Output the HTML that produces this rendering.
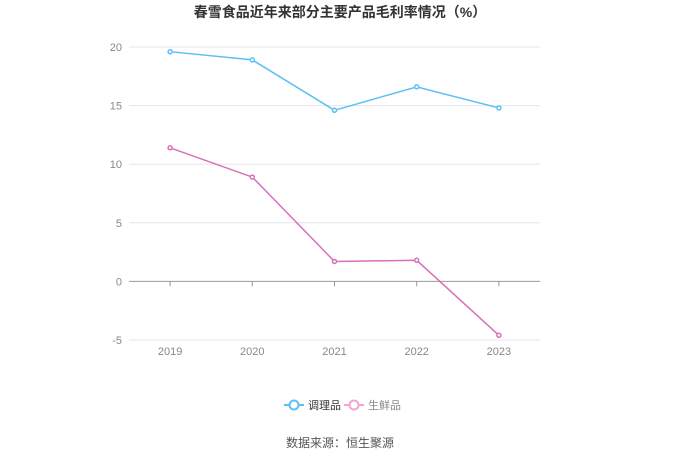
<!DOCTYPE html>
<html><head><meta charset="utf-8"><style>
body{margin:0;background:#fff;font-family:"Liberation Sans","Noto Sans CJK SC",sans-serif;}
</style></head><body>
<svg id="c" width="680" height="460" xmlns="http://www.w3.org/2000/svg">
<text x="340" y="17" text-anchor="middle" font-size="14" font-weight="bold" fill="#333" font-family="Liberation Sans,Noto Sans CJK SC,sans-serif">春雪食品近年来部分主要产品毛利率情况（%）</text>
<g id="grid"></g><g id="series"></g>
<g>
<g>
<line x1="284" y1="405" x2="304" y2="405" stroke="#5bc0f5" stroke-width="2"/><circle cx="294" cy="405" r="4.5" fill="#fff" stroke="#5bc0f5" stroke-width="2"/>
<text x="308" y="409" font-size="11" fill="#333" font-family="Liberation Sans,Noto Sans CJK SC,sans-serif">调理品</text></g>
<g>
<line x1="344" y1="405" x2="364" y2="405" stroke="#f0a8d0" stroke-width="2"/><circle cx="354" cy="405" r="4.5" fill="#fff" stroke="#f0a8d0" stroke-width="2"/>
<text x="368" y="409" font-size="11" fill="#888" font-family="Liberation Sans,Noto Sans CJK SC,sans-serif">生鲜品</text></g>
</g>
<text x="340" y="447" text-anchor="middle" font-size="12" fill="#555" font-family="Liberation Sans,Noto Sans CJK SC,sans-serif">数据来源：恒生聚源</text>
</svg>
<script>
const categories=["2019","2020","2021","2022","2023"];
const tiaolipin=[19.6,18.9,14.6,16.6,14.8];
const shengxianpin=[11.4,8.9,1.7,1.8,-4.6];
const yTicks=[20,15,10,5,0,-5];
const NS="http://www.w3.org/2000/svg";
const x0=129,x1=540,yTop=47,yBot=340,vMax=20,vMin=-5;
const bw=(x1-x0)/categories.length;
const xs=i=>x0+bw*(i+0.5);
const ys=v=>yTop+(vMax-v)/(vMax-vMin)*(yBot-yTop);
function mk(t,a,p){const e=document.createElementNS(NS,t);for(const k in a)e.setAttribute(k,a[k]);p.appendChild(e);return e;}
const g=document.getElementById('grid'),s=document.getElementById('series');
yTicks.forEach(v=>{
 const l=mk('line',{x1:x0,x2:x1,y1:ys(v),y2:ys(v),stroke:v===0?'#999':'#e6e6f0','stroke-width':1},g);
 
 
 const t=mk('text',{x:122,y:ys(v)+4,'text-anchor':'end','font-size':11,fill:'#888','font-family':'Liberation Sans,sans-serif'},g);
 t.textContent=v;
 
 
});
categories.forEach((c,i)=>{
 const l=mk('line',{x1:xs(i),x2:xs(i),y1:ys(0),y2:ys(0)+5,stroke:'#999'},g);
 
 
 const t=mk('text',{x:xs(i),y:355,'text-anchor':'middle','font-size':11,fill:'#888','font-family':'Liberation Sans,sans-serif'},g);
 t.textContent=c;
 
 
});
function series(data,color,name){
 const p=mk('polyline',{points:data.map((v,i)=>xs(i)+','+ys(v)).join(' '),fill:'none',stroke:color,'stroke-width':1.5},s);
 
 
 data.forEach((v,i)=>{
  const c=mk('circle',{cx:xs(i),cy:ys(v),r:2,fill:'#fff',stroke:color,'stroke-width':1.5},s);
  
  
 });
}
series(tiaolipin,'#5bc0f5','tiaolipin');
series(shengxianpin,'#d870b8','shengxianpin');
</script>
</body></html>
